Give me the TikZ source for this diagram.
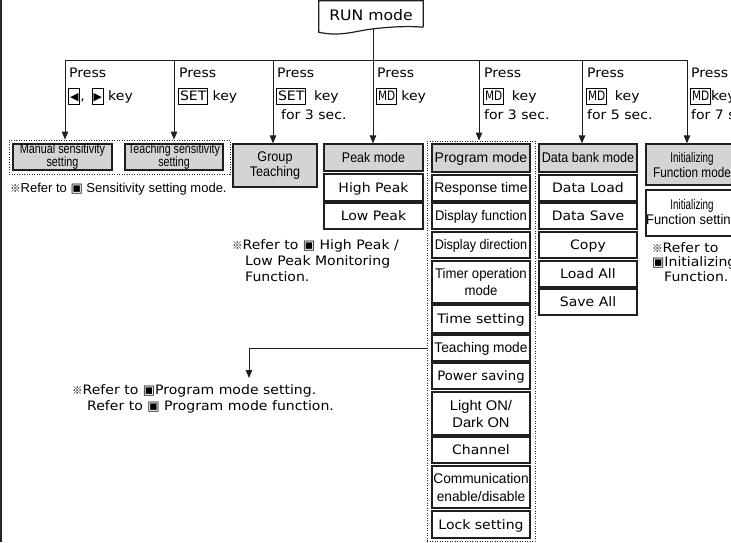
\documentclass[tikz,border=0pt]{standalone}
\usepackage{fontspec}
\usepackage{graphicx}
\usetikzlibrary{arrows.meta}
\newfontfamily\gfam[FakeStretch=1.08]{DejaVu Sans}
\newfontfamily\dvfam{DejaVu Sans}
\newfontfamily\afam{Liberation Sans}
\newfontfamily\cjkfam{Noto Sans CJK JP}
\newcommand\gf{\gfam\fontsize{13}{15}\selectfont}
\newcommand\af{\afam\fontsize{14}{15}\selectfont}
\newcommand\sx[2]{\scalebox{#1}[1]{#2}}
\newcommand\refm{{\cjkfam\fontsize{10.5}{10.5}\selectfont ※}}
\newcommand\sqm{{\dvfam ▣}}
\newcommand\kb[1]{{\fboxsep=1pt\fboxrule=0.8pt\fbox{\rule[-3pt]{0pt}{13pt}#1}}}
\newcommand\tri[1]{{\dvfam\fontsize{11}{11}\selectfont #1}}
\begin{document}
\begin{tikzpicture}[x=1pt,y=-1pt,
  ln/.style={draw=black!88},
  bxb/.style={ln, line width=1.3pt, fill=white, inner sep=0pt, align=center,
              minimum width=98pt, minimum height=26pt, font=\gf},
  box/.style={bxb, text height=9.5pt, text depth=0pt},
  gbox/.style={box, fill=black!17},
  mbox/.style={bxb},
  gmbox/.style={bxb, fill=black!17},
  dotf/.style={draw=black!85, line width=0.9pt, dash pattern=on 1pt off 1.5pt, inner sep=0pt},
  conn/.style={ln, line width=0.9pt},
  arr/.style={conn, -{Triangle[length=8pt,width=6.5pt]}},
  lbl/.style={anchor=west, inner sep=0pt, font=\gf},
]
\useasboundingbox (0,0) rectangle (731,542);
\clip (0,0) rectangle (731,542);

% left frame line
\draw[line width=2pt, black!85] (1,0) -- (1,542);

% RUN mode
\node[inner sep=0pt, minimum width=104pt, minimum height=28pt,
      font={\gf\fontsize{14.5}{16}\selectfont}] (run) at (371,15) {RUN mode};
\draw[ln, line width=1.2pt] ([yshift=2pt]run.south east) -- (run.north east) -- (run.north west)
  -- ([yshift=-3pt]run.south west) .. controls (340,37) and (355,31) .. (372,29)
  .. controls (392,26.5) and (410,26) .. ([yshift=2pt]run.south east);

% bus coordinates
\coordinate (b1) at (65,60);
\coordinate (b2) at (174,60);
\coordinate (b3) at (273,60);
\coordinate (b4) at (373,60);
\coordinate (b5) at (479,60);
\coordinate (b6) at (582,60);
\coordinate (b7) at (687,60);

% dotted frames
\node[dotf, minimum width=221pt, minimum height=34pt] (sensf) at (119.5,157) {};
\node[dotf, minimum width=108pt, minimum height=400pt] (progf) at (481,341) {};

% sensitivity
\node[gmbox, minimum width=99pt, font={\afam\fontsize{13.5}{13}\selectfont}] (man) at (62.5,157)
  {\sx{0.8}{Manual sensitivity}\\\sx{0.8}{setting}};
\node[gmbox, minimum width=98pt, font={\afam\fontsize{13.5}{13}\selectfont}] (tea) at (174,157)
  {\sx{0.79}{Teaching sensitivity}\\\sx{0.79}{setting}};
\node[lbl, font={\afam\fontsize{13}{15}\selectfont}] (r1) at (10,189)
  {\refm Refer to \sqm\ Sensitivity setting mode.};

% group teaching
\node[gmbox, minimum width=84pt, minimum height=43pt, font=\af] (grp) at (275,165.5)
  {\sx{0.9}{Group}\\\sx{0.9}{Teaching}};

% peak
\node[gbox, minimum width=99pt, minimum height=27pt, font=\af] (peak) at (373.5,157.5) {\sx{0.89}{Peak mode}};
\node[box, minimum width=99pt, minimum height=27pt] (high) at (373.5,187.5) {High Peak};
\node[box, minimum width=99pt, minimum height=26pt] (low) at (373.5,216) {Low Peak};
\node[lbl] (r2a) at (232,246) {\refm Refer to \sqm\ High Peak /};
\node[lbl] (r2b) at (245,262) {Low Peak Monitoring};
\node[lbl] (r2c) at (245,277) {Function.};

% program column
\node[gbox, minimum height=28pt, font=\af] (prog) at (481,158) {Program mode};
\node[box, font=\af] (resp) at (481,188) {Response time};
\node[box, font=\af] (dfun) at (481,216) {\sx{0.93}{Display function}};
\node[box, font=\af] (ddir) at (481,245) {\sx{0.9}{Display direction}};
\node[mbox, minimum height=42pt, font={\afam\fontsize{14}{17}\selectfont}] (timer) at (481,282)
  {\sx{0.94}{Timer operation}\\\sx{0.94}{mode}};
\node[box, minimum height=28pt] (tset) at (481,319) {Time setting};
\node[box, font=\af] (tmode) at (481,348) {\sx{0.98}{Teaching mode}};
\node[box] (psave) at (481,376) {\sx{0.94}{Power saving}};
\node[mbox, minimum height=43pt, font={\afam\fontsize{14}{17}\selectfont}] (light) at (481,413.5)
  {\sx{1.05}{Light ON/}\\\sx{1.05}{Dark ON}};
\node[box] (chan) at (481,450) {Channel};
\node[mbox, minimum height=42pt, font={\afam\fontsize{14}{18}\selectfont}] (comm) at (481,487)
  {\sx{0.98}{Communication}\\\sx{0.98}{enable/disable}};
\node[box, minimum height=27pt] (lock) at (481,524.5) {Lock setting};

% data bank column
\node[gbox, minimum height=28pt, font=\af] (dbank) at (588,158) {\sx{0.9}{Data bank mode}};
\node[box] (dload) at (588,188) {Data Load};
\node[box] (dsave) at (588,216) {Data Save};
\node[box] (copy) at (588,245) {Copy};
\node[box] (lall) at (588,274) {Load All};
\node[box] (sall) at (588,302) {Save All};

% initializing
\node[gmbox, minimum width=92pt, minimum height=41pt, font=\af] (imode) at (692,164.5)
  {\sx{0.7}{Initializing}\\\sx{0.84}{Function mode}};
\node[mbox, minimum width=92pt, minimum height=46pt, font=\af] (iset) at (692,213)
  {\sx{0.7}{Initializing}\\\sx{0.93}{Function setting}};
\node[lbl] (r4a) at (652,248) {\refm Refer to};
\node[lbl] (r4b) at (652,263) {\sqm Initializing};
\node[lbl] (r4c) at (664,277) {Function.};

% program refer
\node[lbl] (r3a) at (72,391) {\refm Refer to \sqm Program mode setting.};
\node[lbl] (r3b) at (87,407) {Refer to \sqm\ Program mode function.};

% press labels
\node[lbl] (p1) at (69,73) {Press};
\node[lbl] (k1) at (68,96.5) {\kb{\tri{◀}},\hspace{7pt}\kb{\tri{▶}} key};
\node[lbl] (p2) at (179,73) {Press};
\node[lbl] (k2) at (178,96.5) {\kb{SET} key};
\node[lbl] (p3) at (277,73) {Press};
\node[lbl] (k3) at (276,96.5) {\kb{SET}\hspace{8pt}key};
\node[lbl] (f3) at (281,115) {for 3 sec.};
\node[lbl] (p4) at (377,73) {Press};
\node[lbl] (k4) at (376,96.5) {\kb{\sx{0.75}{MD}} key};
\node[lbl] (p5) at (484,73) {Press};
\node[lbl] (k5) at (483,96.5) {\kb{\sx{0.75}{MD}}\hspace{8pt}key};
\node[lbl] (f5) at (484,115) {for 3 sec.};
\node[lbl] (p6) at (587,73) {Press};
\node[lbl] (k6) at (586,96.5) {\kb{\sx{0.75}{MD}}\hspace{8pt}key};
\node[lbl] (f6) at (587,115) {for 5 sec.};
\node[lbl] (p7) at (691,73) {Press};
\node[lbl] (k7) at (690,96.5) {\kb{\sx{0.75}{MD}}key};
\node[lbl] (f7) at (691,115) {for 7 sec.};

% connectors
\draw[conn] (run.south -| b4) -- (b4);
\draw[conn] (b1) -- (b7);
\draw[arr] (b1) -- (b1 |- sensf.north);
\draw[arr] (b2) -- (b2 |- sensf.north);
\draw[arr] (b3) -- (b3 |- grp.north);
\draw[arr] (b4) -- (b4 |- peak.north);
\draw[arr] (b5) -- (b5 |- progf.north);
\draw[arr] (b6) -- (b6 |- dbank.north);
\draw[arr] (b7) -- (b7 |- imode.north);
\coordinate (pe) at (249,378);
\draw[arr] (progf.west |- tmode) -| (pe);
\end{tikzpicture}
\end{document}
